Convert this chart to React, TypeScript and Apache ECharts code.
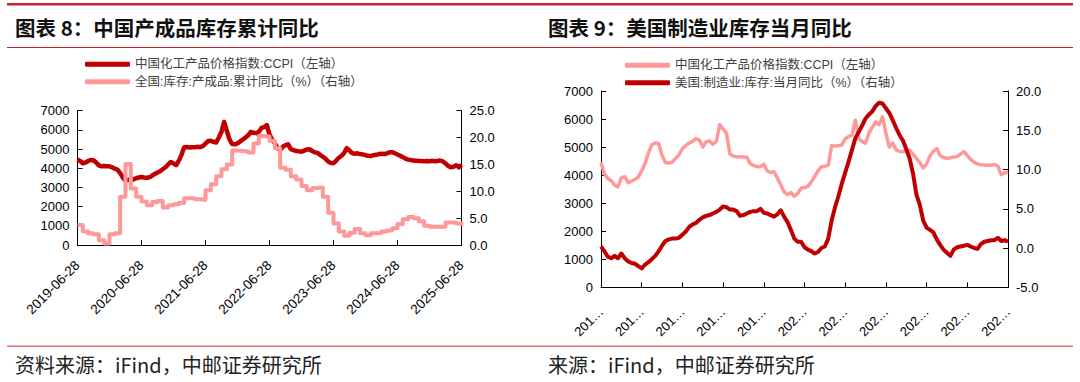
import React, { useEffect, useRef } from "react";
import * as echarts from "echarts";

// ---------- Left chart (图表 8) ----------
// Semi-monthly observations from 2019-06-28 to 2025-06-28 (145 points)
const leftCategories: string[] = Array.from({ length: 145 }, (_, i) => {
  const d = new Date(2019, 5 + Math.floor(i / 2) + (i % 2), i % 2 ? 13 : 28);
  const mm = String(d.getMonth() + 1).padStart(2, "0");
  const dd = String(d.getDate()).padStart(2, "0");
  return `${d.getFullYear()}-${mm}-${dd}`;
});

// 中国化工产品价格指数:CCPI (left axis)
const ccpiLeft: number[] = [
  4450, 4380, 4260, 4300, 4380, 4430, 4420, 4300, 4150, 4100,
  4120, 4110, 4100, 4050, 3980, 3920, 3750, 3520, 3350, 3400,
  3380, 3420, 3480, 3520, 3540, 3520, 3510, 3530, 3620, 3700,
  3780, 3850, 3950, 4050, 4200, 4330, 4250, 4170, 4400, 4700,
  5100, 5110, 5080, 5100, 5090, 5120, 5100, 5150, 5280, 5420,
  5430, 5380, 5340, 5600, 5900, 6420, 5950, 5500, 5260, 5250,
  5300, 5400, 5500, 5600, 5720, 5900, 5850, 5830, 5900, 6100,
  6150, 6250, 5750, 5500, 5300, 5050, 4950, 5120, 5200, 5250,
  5000, 4950, 4900, 4880, 4860, 4920, 4980, 4990, 4900, 4830,
  4800, 4700, 4600, 4500, 4350, 4280, 4260, 4400, 4550, 4650,
  4800, 5050, 4920, 4790, 4760, 4780, 4740, 4720, 4680, 4650,
  4640, 4680, 4700, 4740, 4750, 4740, 4780, 4830, 4840, 4780,
  4720, 4650, 4580, 4500, 4450, 4430, 4400, 4390, 4380, 4380,
  4370, 4380, 4370, 4390, 4360, 4380, 4400, 4360, 4250, 4120,
  4050, 4080, 4160, 4050, 4180,
];

// 全国:库存:产成品:累计同比（%）(right axis), monthly, 2019-06 .. 2025-06
const invCumYoY: number[] = [
  3.7, 2.5, 2.2, 2.0, 0.9, 0.3, 2.0, 2.2, 9.0, 15.1,
  10.5, 9.0, 8.1, 7.4, 8.0, 8.2, 7.0, 7.4, 7.6, 7.8,
  8.7, 8.7, 8.5, 8.4, 10.2, 11.3, 12.8, 14.1, 15.0, 17.6,
  17.5, 17.4, 17.2, 18.9, 20.3, 20.2, 19.4, 18.0, 14.4, 14.0,
  12.8, 12.2, 11.0, 10.2, 10.6, 10.7, 9.0, 6.0, 4.0, 2.5,
  1.7, 2.3, 3.0, 2.2, 1.8, 2.2, 2.3, 2.5, 2.7, 3.1,
  3.9, 4.8, 5.2, 5.0, 4.4, 3.6, 3.4, 3.4, 3.4, 4.2,
  4.2, 4.0, 3.6,
];

// ---------- Right chart (图表 9) ----------
// Monthly, 2015-06 .. 2025-06 (121 points)
const rightCategories: string[] = Array.from({ length: 121 }, (_, n) => {
  const d = new Date(2015, 5 + n, 1);
  return `${d.getFullYear()}-${String(d.getMonth() + 1).padStart(2, "0")}`;
});

// 中国化工产品价格指数:CCPI (left axis)
const ccpiRight: number[] = [
  4460, 4050, 3880, 3800, 3650, 3580, 3900, 3950, 3730, 3790,
  3850, 3930, 4150, 4420, 4800, 5080, 5150, 5130, 4700, 4450,
  4430, 4460, 4600, 4720, 4950, 5050, 5150, 5200, 5300, 5250,
  5000, 5190, 5220, 5100, 5200, 5800, 5650, 5500, 4750, 4680,
  4650, 4660, 4650, 4640, 4400, 4350, 4300, 4300, 4390, 4150,
  4100, 4120, 3900, 3650, 3400, 3300, 3380, 3245, 3350, 3530,
  3560, 3600, 3760, 3950, 4150, 4300, 4320, 4350, 5050, 5040,
  5050, 5080, 5300, 5380, 5420, 5960, 5300, 5200, 5140, 5500,
  5700, 5900, 5800, 6080, 5500, 5000, 5150, 4900, 4850, 4830,
  4880, 4890, 4750, 4600, 4450, 4260, 4400, 4680, 4850, 4950,
  4700, 4630, 4600, 4620, 4650, 4660, 4750, 4840, 4700, 4560,
  4460, 4400, 4370, 4360, 4350, 4350, 4380, 4320, 4020, 4080,
  4120,
];

// 美国:制造业:库存:当月同比（%）(right axis)
const usInvYoY: number[] = [
  0.2, -0.4, -1.1, -1.3, -1.0, -1.3, -0.7, -1.3, -1.7, -1.9,
  -2.0, -2.3, -2.6, -2.1, -1.8, -1.4, -1.0, -0.4, 0.3, 0.9,
  1.1, 1.2, 1.2, 1.3, 1.7, 2.1, 2.7, 3.0, 3.2, 3.6,
  3.9, 4.1, 4.2, 4.4, 4.6, 4.9, 5.3, 5.2, 4.9, 4.9,
  4.7, 4.1, 4.2, 4.4, 4.6, 4.7, 4.7, 5.0, 4.5, 4.4,
  4.2, 4.0, 4.3, 4.8, 4.0, 3.3, 2.3, 1.2, 0.8, 0.8,
  0.1, -0.2, -0.4, -0.7, -0.5, 0.0, 0.2, 1.2, 3.5, 5.2,
  6.6, 8.2, 9.6, 11.0, 12.5, 14.0, 14.8, 15.6, 16.5, 17.0,
  17.4, 18.1, 18.5, 18.4, 17.8, 17.2, 16.3, 15.3, 14.4, 13.7,
  12.6, 11.4, 9.5, 6.8, 5.5, 3.5, 2.6, 2.3, 2.0, 1.1,
  0.4, -0.2, -0.6, -1.0, -0.2, 0.1, 0.2, 0.3, 0.4, 0.2,
  0.0, -0.1, 0.5, 0.8, 0.9, 1.0, 1.0, 1.3, 0.9, 1.0,
  0.8,
];

const NAME_CCPI = "中国化工产品价格指数:CCPI（左轴）";
const NAME_CUM = "全国:库存:产成品:累计同比（%）（右轴）";
const NAME_US = "美国:制造业:库存:当月同比（%）（右轴）";

const DARK = "#C00000";
const PINK = "#FF9999";
const LATIN = '"Liberation Sans", Arial, "Noto Sans CJK SC", sans-serif';
const CJK = '"Liberation Sans", "Noto Sans CJK SC", sans-serif';

const axisLineStyle = { show: true, lineStyle: { color: "#000", width: 1 } };
const tickStyle = { show: true, inside: true, length: 5, lineStyle: { color: "#000", width: 1 } };
const labelStyle = { fontSize: 13, color: "#000", fontFamily: LATIN };
const plain = (v: number) => String(v);
const oneDecimal = (v: number) => v.toFixed(1);

export default function App() {
  const ref = useRef<HTMLDivElement>(null);

  useEffect(() => {
    if (!ref.current) return;
    const chart = echarts.init(ref.current, undefined, { renderer: "svg" });

    const option: any = {
      animation: false,
      backgroundColor: "#ffffff",
      graphic: [
        { type: "rect", shape: { x: 7, y: 3, width: 1066, height: 2.5 }, style: { fill: "#C8262C" } },
        { type: "rect", shape: { x: 7, y: 47, width: 1066, height: 1 }, style: { fill: "#C8262C" } },
        { type: "rect", shape: { x: 7, y: 345.5, width: 1066, height: 1.5 }, style: { fill: "#E57373" } },
        {
          type: "text", x: 15, y: 27,
          style: { text: "图表 8：中国产成品库存累计同比", fontSize: 20.5, fontWeight: "bold", fontFamily: '"Noto Sans CJK SC"', fill: "#111", verticalAlign: "middle" },
        },
        {
          type: "text", x: 548, y: 27,
          style: { text: "图表 9：美国制造业库存当月同比", fontSize: 20.5, fontWeight: "bold", fontFamily: '"Noto Sans CJK SC"', fill: "#111", verticalAlign: "middle" },
        },
        {
          type: "text", x: 15, y: 364,
          style: { text: "资料来源：iFind，中邮证券研究所", fontSize: 20, fontFamily: '"Noto Sans CJK SC"', fill: "#222", verticalAlign: "middle" },
        },
        {
          type: "text", x: 548, y: 364,
          style: { text: "来源：iFind，中邮证券研究所", fontSize: 20, fontFamily: '"Noto Sans CJK SC"', fill: "#222", verticalAlign: "middle" },
        },
      ],
      legend: [
        {
          orient: "vertical", left: 80, top: 53, itemWidth: 45, itemHeight: 5, itemGap: 5, icon: "roundRect",
          textStyle: { fontSize: 12.5, color: "#404040", fontFamily: CJK },
          data: [
            { name: NAME_CCPI, itemStyle: { color: DARK } },
            { name: NAME_CUM, itemStyle: { color: PINK } },
          ],
        },
        {
          orient: "vertical", left: 620, top: 54, itemWidth: 45, itemHeight: 5, itemGap: 5, icon: "roundRect",
          textStyle: { fontSize: 12.5, color: "#404040", fontFamily: CJK },
          data: [
            { name: NAME_CCPI, itemStyle: { color: PINK } },
            { name: NAME_US, itemStyle: { color: DARK } },
          ],
        },
      ],
      grid: [
        { left: 77.5, top: 110.7, width: 384, height: 134.3 },
        { left: 601, top: 91, width: 407, height: 196.3 },
      ],
      xAxis: [
        {
          type: "category", gridIndex: 0, data: leftCategories, boundaryGap: false,
          axisLine: { ...axisLineStyle, onZero: false },
          axisTick: { ...tickStyle, interval: (i: number) => i % 24 === 0 },
          axisLabel: { ...labelStyle, fontSize: 13.5, rotate: 45, margin: 18, interval: (i: number) => i % 24 === 0 },
          splitLine: { show: false },
        },
        {
          type: "category", gridIndex: 1, data: rightCategories, boundaryGap: false,
          axisLine: { ...axisLineStyle, onZero: false },
          axisTick: { ...tickStyle, interval: (i: number) => i % 12 === 0 },
          axisLabel: {
            ...labelStyle, rotate: 45, margin: 22, interval: (i: number) => i % 12 === 0,
            formatter: (v: string) => v.slice(0, 3) + "…",
          },
          splitLine: { show: false },
        },
      ],
      yAxis: [
        {
          type: "value", gridIndex: 0, position: "left", min: 0, max: 7000, interval: 1000,
          axisLine: axisLineStyle, axisTick: tickStyle, splitLine: { show: false },
          axisLabel: { ...labelStyle, margin: 8, formatter: plain },
        },
        {
          type: "value", gridIndex: 0, position: "right", min: 0, max: 25, interval: 5,
          axisLine: axisLineStyle, axisTick: tickStyle, splitLine: { show: false },
          axisLabel: { ...labelStyle, margin: 8, formatter: oneDecimal },
        },
        {
          type: "value", gridIndex: 1, position: "left", min: 0, max: 7000, interval: 1000,
          axisLine: axisLineStyle, axisTick: tickStyle, splitLine: { show: false },
          axisLabel: { ...labelStyle, margin: 8, formatter: plain },
        },
        {
          type: "value", gridIndex: 1, position: "right", min: -5, max: 20, interval: 5,
          axisLine: axisLineStyle, axisTick: tickStyle, splitLine: { show: false },
          axisLabel: { ...labelStyle, margin: 8, formatter: oneDecimal },
        },
      ],
      series: [
        {
          name: NAME_CCPI, type: "line", xAxisIndex: 0, yAxisIndex: 0, data: ccpiLeft,
          symbol: "none", color: DARK, lineStyle: { width: 4.5, color: DARK, join: "round" },
        },
        {
          name: NAME_CUM, type: "line", xAxisIndex: 0, yAxisIndex: 1, step: "end",
          data: invCumYoY.map((v, m) => [m * 2, v]),
          symbol: "none", color: PINK, lineStyle: { width: 4, color: PINK, join: "round" },
        },
        {
          name: NAME_CCPI, type: "line", xAxisIndex: 1, yAxisIndex: 2, data: ccpiRight,
          symbol: "none", color: PINK, lineStyle: { width: 3.5, color: PINK, join: "round" },
        },
        {
          name: NAME_US, type: "line", xAxisIndex: 1, yAxisIndex: 3, data: usInvYoY,
          symbol: "none", color: DARK, lineStyle: { width: 4, color: DARK, join: "round" },
        },
      ],
    };

    chart.setOption(option);
    return () => chart.dispose();
  }, []);

  return (
    <div
      ref={ref}
      style={{ position: "absolute", left: 0, top: 0, width: 1080, height: 382, background: "#fff" }}
    />
  );
}
